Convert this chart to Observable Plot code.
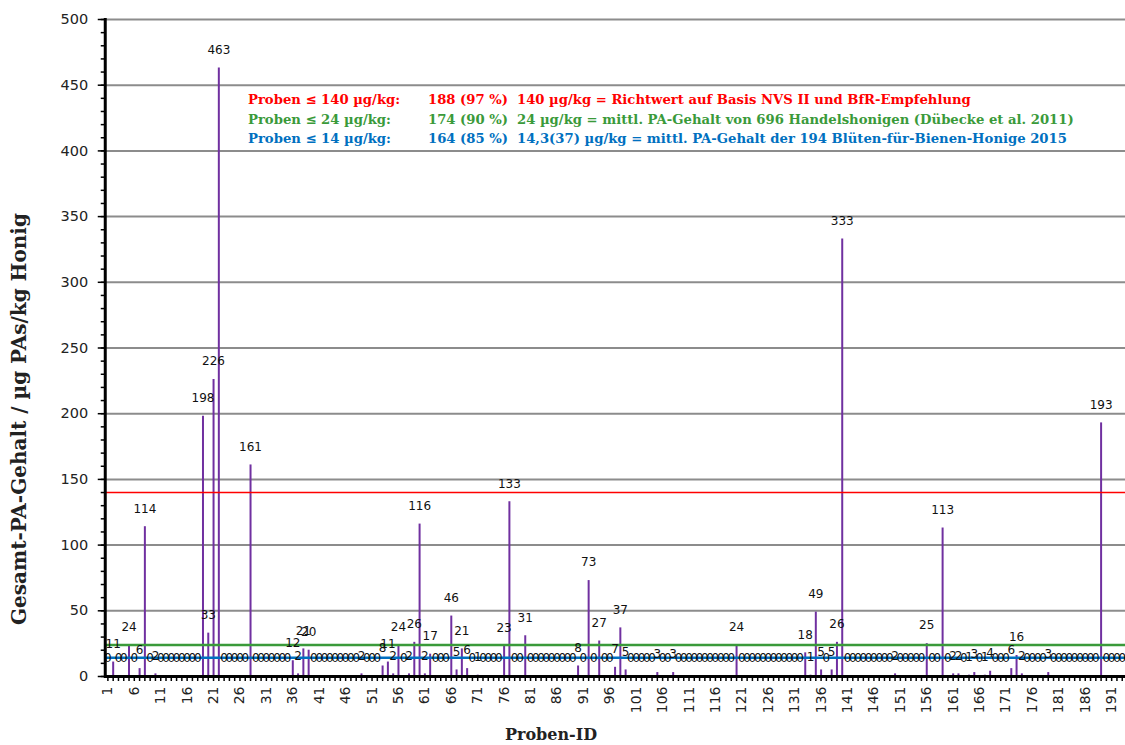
<!DOCTYPE html>
<html><head><meta charset="utf-8">
<script src="https://cdn.jsdelivr.net/npm/d3@7"></script>
<script src="https://cdn.jsdelivr.net/npm/@observablehq/plot@0.6"></script>
<style>
html,body{margin:0;padding:0;background:#fff;overflow:hidden;}
#wrap{position:relative;width:1125px;height:745px;overflow:hidden;}
#wrap svg{position:absolute;left:0;top:0;overflow:hidden;}
.t{position:absolute;font-family:"DejaVu Serif",serif;font-weight:bold;white-space:nowrap;line-height:1;}
.leg{font-size:13.2px;}
</style></head><body><div id="wrap"></div>
<script>
// Proben-ID 1..194
const ids = d3.range(1, 195);
// Gesamt-PA-Gehalt (µg/kg) per sample
const values = [
  0, 11, 0, 0, 24, 0, 6, 114, 0, 2,
  0, 0, 0, 0, 0, 0, 0, 0, 198, 33,
  226, 463, 0, 0, 0, 0, 0, 161, 0, 0,
  0, 0, 0, 0, 0, 12, 2, 21, 20, 0,
  0, 0, 0, 0, 0, 0, 0, 0, 2, 0,
  0, 0, 8, 11, 2, 24, 0, 2, 26, 116,
  2, 17, 0, 0, 0, 46, 5, 21, 6, 0,
  1, 0, 0, 0, 0, 23, 133, 0, 0, 31,
  0, 0, 0, 0, 0, 0, 0, 0, 0, 8,
  0, 73, 0, 27, 0, 0, 7, 37, 5, 0,
  0, 0, 0, 0, 3, 0, 0, 3, 0, 0,
  0, 0, 0, 0, 0, 0, 0, 0, 0, 24,
  0, 0, 0, 0, 0, 0, 0, 0, 0, 0,
  0, 0, 18, 1, 49, 5, 0, 5, 26, 333,
  0, 0, 0, 0, 0, 0, 0, 0, 0, 2,
  0, 0, 0, 0, 0, 25, 0, 0, 113, 0,
  2, 2, 0, 1, 3, 0, 1, 4, 0, 0,
  0, 6, 16, 2, 0, 0, 0, 0, 3, 0,
  0, 0, 0, 0, 0, 0, 0, 0, 193, 0,
  0, 0, 0, 0
];
// reference lines
const refValues = [140, 24, 14.3];
const refColors = ["#FF0000", "#3A9A3A", "#0070C0"];
const refWidths = [1.6, 2.5, 2.5];
// y ticks
const yMajor = d3.range(0, 501, 50);
const yMinor = d3.range(0, 501, 10);
const xLabelTicks = ids.filter(i => (i - 1) % 5 === 0);
// legend texts
const legCol1 = ["Proben \u2264 140 \u00b5g/kg:", "Proben \u2264 24 \u00b5g/kg:", "Proben \u2264 14 \u00b5g/kg:"];
const legCol2 = ["188 (97 %)", "174 (90 %)", "164 (85 %)"];
const legCol3 = [
  "140 \u00b5g/kg = Richtwert auf Basis NVS II und BfR-Empfehlung",
  "24 \u00b5g/kg = mittl. PA-Gehalt von 696 Handelshonigen (D\u00fcbecke et al. 2011)",
  "14,3(37) \u00b5g/kg = mittl. PA-Gehalt der 194 Bl\u00fcten-f\u00fcr-Bienen-Honige 2015"
];
const legColors = ["#FF0000", "#3A9A3A", "#0070C0"];
const yTitle = "Gesamt-PA-Gehalt / \u00b5g PAs/kg Honig";
const xTitle = "Proben-ID";

const data = ids.map((id, i) => ({id, v: values[i]}));
const refs = refValues.map((v, i) => ({v, c: refColors[i], w: refWidths[i]}));

const W = 1125, H = 745;
const mL = 104.75, mT = 19, mB = 69;
const bw = 5.283;
const xEnd = mL + ids.length * bw;

const chart = Plot.plot({
  width: W, height: H,
  marginLeft: mL, marginRight: W - xEnd, marginTop: mT, marginBottom: mB,
  style: {fontFamily: "DejaVu Sans", background: "white", overflow: "hidden"},
  x: {type: "band", domain: ids, padding: 0, range: [mL, xEnd], axis: null},
  y: {domain: [0, 500], range: [H - mB, mT], axis: null},
  marks: [
    Plot.gridY(yMajor.filter(d => d > 0), {stroke: "#8c8c8c", strokeOpacity: 1, strokeWidth: 2}),
    Plot.ruleX(data, {x: "id", y1: 0, y2: "v", stroke: "#7030A0", strokeWidth: 2}),
    ...refs.map(r => Plot.ruleY([r.v], {stroke: r.c, strokeWidth: r.w})),
    Plot.text(data, {x: "id", y: "v", text: d => String(d.v), dy: -18, lineAnchor: "middle", fontSize: 12, fill: "#111"}),
    Plot.axisY(yMajor, {tickSize: 7, tickPadding: 10, fontSize: 14.5, label: null, strokeWidth: 1.5, fill: "#222"}),
    Plot.axisY(yMinor, {tickSize: 4, text: null, label: null, strokeWidth: 1.5}),
    Plot.axisX(ids, {tickSize: 5, text: null, label: null, strokeWidth: 1.5}),
    Plot.axisX(xLabelTicks, {tickSize: 0, tickRotate: -90, tickPadding: 10, fontSize: 14, label: null, fill: "#222"}),
    Plot.frame({anchor: "left", stroke: "black", strokeWidth: 3}),
    Plot.ruleY([0], {stroke: "black", strokeWidth: 3})
  ]
});

const wrap = document.getElementById("wrap");
wrap.appendChild(chart);

function addText(txt, css, cls) {
  const d = document.createElement("div");
  d.className = "t " + (cls || "");
  d.textContent = txt;
  Object.assign(d.style, css);
  wrap.appendChild(d);
  return d;
}
addText(yTitle, {left: "19px", top: "419px", fontSize: "20px", color: "#222", transform: "translate(-50%,-50%) rotate(-90deg)"});
addText(xTitle, {left: "551px", top: "735px", fontSize: "16px", color: "#222", transform: "translate(-50%,-50%)"});
const legTop = 93, legStep = 19.5;
legCol1.forEach((t, i) => {
  const top = (legTop + i * legStep) + "px";
  addText(t, {left: "248px", top, color: legColors[i]}, "leg");
  addText(legCol2[i], {left: "428px", top, color: legColors[i]}, "leg");
  addText(legCol3[i], {left: "517px", top, color: legColors[i]}, "leg");
});
</script></body></html>
